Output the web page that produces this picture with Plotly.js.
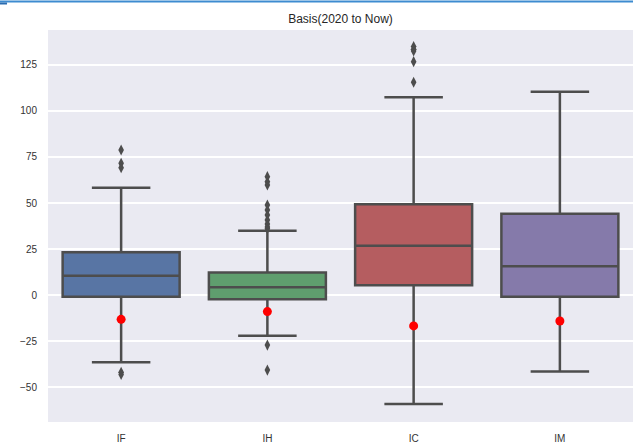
<!DOCTYPE html>
<html>
<head>
<meta charset="utf-8">
<script src="https://cdn.plot.ly/plotly-3.0.1.min.js"></script>
<style>html,body{margin:0;padding:0;background:#fff;}#chart{width:633px;height:443px;}</style>
</head>
<body>
<div id="chart"></div>
<script>
const categories = ['IF', 'IH', 'IC', 'IM'];
const q1Values = [-0.9, -2.3, 5.3, -0.9];
const medianValues = [10.5, 4.2, 26.8, 15.6];
const q3Values = [23.2, 12.3, 49.3, 44.2];
const lowerFenceValues = [-36.6, -22.1, -59.2, -41.5];
const upperFenceValues = [58.3, 34.9, 107.4, 110.5];
const currentValues = [-13.2, -9.0, -16.8, -14.1];
const outliersIF = [78.8, 71.6, 69.2, -42.0, -43.2];
const outliersIH = [64.3, 61.5, 59.8, 48.9, 46.2, 43.5, 40.8, 38.6, 37.0, 36.0, -27.2, -40.8];
const outliersIC = [135.0, 133.6, 132.6, 126.8, 115.6];
const outliersIM = [];
const fillColors = ['#5875A4', '#5F9E6E', '#B55D60', '#857AAA'];
const lineGray = '#4d4d4d';

const outlierSets = [outliersIF, outliersIH, outliersIC, outliersIM];
const traces = [];
categories.forEach((c, i) => {
  traces.push({
    type: 'box',
    x: [c],
    q1: [q1Values[i]],
    median: [medianValues[i]],
    q3: [q3Values[i]],
    lowerfence: [lowerFenceValues[i]],
    upperfence: [upperFenceValues[i]],
    width: 0.8,
    whiskerwidth: 0.5,
    fillcolor: fillColors[i],
    line: {color: lineGray, width: 2.5},
    boxpoints: false,
    hoverinfo: 'skip',
    showlegend: false
  });
});
categories.forEach((c, i) => {
  const o = outlierSets[i];
  if (o.length) {
    traces.push({
      type: 'scatter', mode: 'markers',
      x: o.map(() => c), y: o,
      marker: {symbol: 'diamond-tall', size: 8, color: lineGray, line: {width: 0}},
      showlegend: false, hoverinfo: 'skip'
    });
  }
});
traces.push({
  type: 'scatter', mode: 'markers',
  x: categories, y: currentValues,
  marker: {color: '#ff0000', size: 9, line: {width: 0}},
  showlegend: false, hoverinfo: 'skip'
});

const layout = {
  width: 633, height: 443,
  margin: {l: 48, r: 0, t: 30, b: 21},
  paper_bgcolor: '#ffffff',
  plot_bgcolor: '#EAEAF2',
  showlegend: false,
  boxmode: 'overlay',
  title: {text: 'Basis(2020 to Now)', font: {family: 'Liberation Sans, Arial, sans-serif', size: 12, color: '#262626'}, x: 0.5, xref: 'paper', y: 1, yref: 'paper', yanchor: 'bottom', pad: {b: 7}},
  font: {family: 'Liberation Sans, Arial, sans-serif', size: 10, color: '#333333'},
  xaxis: {
    type: 'category', categoryarray: categories, categoryorder: 'array',
    range: [-0.5, 3.5], showgrid: false, zeroline: false, showline: false,
    ticks: '', ticklabelstandoff: 9, automargin: false,
    tickfont: {size: 10, color: '#333333'}
  },
  yaxis: {
    range: [-69, 144], tickvals: [-50, -25, 0, 25, 50, 75, 100, 125],
    ticktext: ['\u221250', '\u221225', '0', '25', '50', '75', '100', '125'],
    showgrid: true, gridcolor: '#ffffff', gridwidth: 1.3, zeroline: false, showline: false,
    ticks: '', ticklabelstandoff: 10, automargin: false,
    tickfont: {size: 10, color: '#333333'}
  },
  shapes: [
    {type: 'line', xref: 'paper', yref: 'paper', x0: -0.09, x1: 1.0, y0: 1.0727, y1: 1.0727, line: {color: '#3d8bd0', width: 2}},
    {type: 'line', xref: 'paper', yref: 'paper', x0: -0.09, x1: -0.07, y0: 1.0676, y1: 1.0676, line: {color: '#2b6cb0', width: 2}}
  ]
};
Plotly.newPlot('chart', traces, layout, {staticPlot: true, displayModeBar: false});
</script>
</body>
</html>
